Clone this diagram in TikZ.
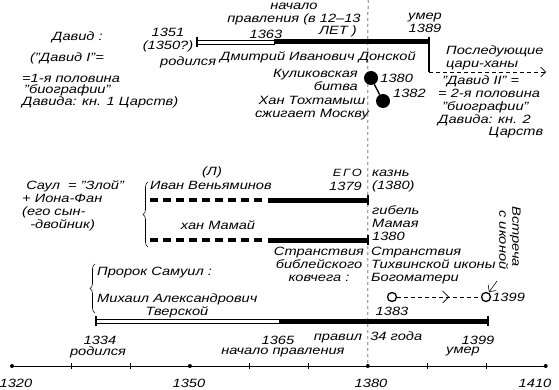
\documentclass[tikz,border=0pt]{standalone}
\usepackage{fontspec}
\setmainfont{Liberation Sans}[FakeStretch=1.22]
\usetikzlibrary{arrows.meta,positioning,calc,decorations.pathreplacing,decorations.markings}
\newcommand{\hnd}{\fontsize{12}{13}\selectfont\itshape}
\newcommand{\hndsm}{\fontsize{10.5}{12.5}\selectfont\itshape}
\tikzset{
  lbl/.style={font=\hnd, inner sep=0pt, align=left},
  lblsm/.style={lbl, font=\hndsm},
  openbar/.style={draw=black, line width=0.6pt, fill=white},
  fullbar/.style={line width=5pt, draw=black},
  dashbar/.style={line width=4.5pt, draw=black, dash pattern=on 8pt off 5pt},
  endtick/.style={line width=1.2pt},
  era/.style={line width=0.5pt, dash pattern=on 3pt off 3pt},
  flow/.style={-{Straight Barb[length=5pt]}, dash pattern=on 4pt off 3pt, line width=0.6pt},
  midflow/.style={dash pattern=on 4pt off 3pt, line width=0.6pt, postaction={decorate},
                  decoration={markings, mark=at position 0.62 with {\arrow{Straight Barb[length=6pt]}}}},
  event/.style={circle, fill=black, inner sep=0pt, minimum size=14pt},
  ring/.style={circle, draw=black, line width=1.3pt, fill=white, inner sep=0pt, minimum size=9pt},
  axdot/.style={circle, fill=black, inner sep=0pt, minimum size=4pt},
  brc/.style={decorate, decoration={brace, amplitude=5pt}, line width=0.6pt},
}

\begin{document}
\begin{tikzpicture}[x=1pt, y=-1pt]
\useasboundingbox[fill=white] (0,0) rectangle (559,390);

% time axis
\foreach \yr in {1320,1350,1380,1410}
  \node[axdot] (ax\yr) at ({12+(\yr-1320)*5.93},366) {};
\draw[line width=0.6pt] (ax1320) -- (ax1410);
\foreach \yr in {1330,1340,1360,1370,1390,1400}
  \draw[line width=0.5pt] ({12+(\yr-1320)*5.93},363) -- ++(0,6);
\node[lbl] (y1320) at (16,383) {1320};
\node[lbl] (y1350) at (189,383) {1350};
\node[lbl] (y1380) at (371,383) {1380};
\node[lbl] (y1410) at (535,383) {1410};
\coordinate (eraT) at (368,0);
\draw[era] (eraT) -- (ax1380);

% David I: Dmitry Donskoy
\node[lbl] (dav) at (52,37) [anchor=west] {Давид :};
\node[lbl] (dav1) at (30,58) [anchor=west] {("Давид I"=};
\node[lbl] (dav2) at (22,78) [anchor=west] {=1-я половина};
\node[lbl] (dav3) at (24,90) [anchor=west] {"биографии"};
\node[lbl] (dav4) at (22,102) [anchor=west] {Давида: кн. 1 Царств)};
\node[lbl, align=center] (dmborn) at (168,40) {1351\\(1350?)};
\node[lbl] (dmborn2) at (160,62) [anchor=west] {родился};
\node[lbl, align=center] (dmrule) at (294,14) {начало\\правления (в 12--13};
\node[lbl] (dmrule2) at (266,34) {1363};
\node[lbl] (dmyears) at (338,31) {ЛЕТ )};
\node[lbl, align=center] (dmdied) at (425,23) {умер\\1389};
\node[lbl] (dmname) at (318,57) {Дмитрий Иванович Донской};
\coordinate (dmB) at (197,42);
\coordinate (dmS) at (274,42);
\coordinate (dmE) at (429,42);
\draw[openbar] ($(dmB)+(0,-2)$) rectangle ($(dmS)+(0,2)$);
\draw[fullbar] (dmS) -- (dmE);
\draw[endtick] ($(dmB)+(0,-5)$) -- ($(dmB)+(0,5)$);
\draw[endtick] ($(dmE)+(0,-5)$) -- ($(dmE)+(0,30)$) coordinate (nxtB);
\coordinate (nxtE) at (546,72);
\draw[flow] (nxtB) -- (nxtE);
\node[lbl] (nxt) at (446,58) [anchor=west] {Последующие\\цари-ханы};

\node[event] (kul) at (371,78) {};
\node[event] (tokh) at (383,101) {};
\draw[line width=1.3pt] (kul) -- (tokh);
\node[lbl, right=2pt of kul] (kulyr) {1380};
\node[lbl] (tokhyr) at (393,93) [anchor=west] {1382};
\node[lbl, align=right] (kultx) at (358,80) [anchor=east] {Куликовская\\битва};
\node[lbl, align=center] (tokhtx) at (312,108) {Хан Тохтамыш\\сжигает Москву};

\node[lbl, align=left] (dav5) at (438,101) [anchor=west] {\ "Давид II" =\\= 2-я половина\\\ "биографии"\\Давида: кн. 2};
\node[lbl] (dav6) at (516,133) {Царств};

% Saul + Jonathan
\node[lbl] (saul) at (22,206) [anchor=west] {\ Саул \ = "Злой"\\+ Иона-Фан\\(его сын-\\\ \ -двойник)};
\coordinate (brS1) at (148,247);
\coordinate (brS2) at (148,182);
\draw[brc] (brS1) -- (brS2);
\node[lbl] (ivan) at (150,185) [anchor=west] {Иван Веньяминов};
\node[lbl] (ivanl) at (212,172) {(Л)};
\node[lblsm] (ivanhis) at (362,173) [anchor=east] {Е\,Г\,О};
\node[lbl] (ivanyr) at (362,186) [anchor=east] {1379};
\node[lbl] (ivandie) at (372,181) [anchor=west] {казнь\\(1380)};
\coordinate (ivB) at (150,200);
\coordinate (ivS) at (268,200);
\coordinate (ivE) at (368,200);
\draw[dashbar] (ivB) -- ($(ivS)+(-4,0)$);
\draw[fullbar] (ivS) -- (ivE);
\draw[endtick] ($(ivE)+(0,-5)$) -- ($(ivE)+(0,5)$);

\node[lbl] (mamai) at (218,225) {хан Мамай};
\node[lbl] (mamaidie) at (372,223) [anchor=west] {гибель\\Мамая\\1380};
\coordinate (mmB) at (150,240);
\coordinate (mmS) at (268,240);
\coordinate (mmE) at (368,240);
\draw[dashbar] (mmB) -- ($(mmS)+(-4,0)$);
\draw[fullbar] (mmS) -- (mmE);
\draw[endtick] ($(mmE)+(0,-5)$) -- ($(mmE)+(0,5)$);

% Samuel: Mikhail of Tver
\node[lbl] (sam) at (97,273) [anchor=west] {Пророк Самуил :};
\node[lbl] (mikh) at (97,299) [anchor=west] {Михаил Александрович};
\node[lbl] (mikh2) at (177,312) {Тверской};
\coordinate (brM1) at (95,313);
\coordinate (brM2) at (95,264);
\draw[brc] (brM1) -- (brM2);
\node[lbl, align=center] (ark) at (319,264) {Странствия\\библейского\\ковчега :};
\node[lbl] (icon) at (371,266) [anchor=west] {Странствия\\Тихвинской иконы\\Богоматери};
\node[ring] (ic1) at (392,297) {};
\node[ring] (ic2) at (486,297) {};
\draw[midflow] (ic1) -- (ic2);
\node[lbl] (ic1yr) at (392,311) {1383};
\node[lbl, right=1pt of ic2] (ic2yr) {1399};
\node[lbl, rotate=-90, align=left] (meet) at (510,238) {Встреча\\\ с иконой};
\coordinate (meetA) at (497,281);
\coordinate (meetB) at (489,292);
\draw[-{Straight Barb[length=5pt]}, line width=0.6pt] (meetA) -- (meetB);

\coordinate (mkB) at (96,321);
\coordinate (mkS) at (279,321);
\coordinate (mkE) at (488,321);
\draw[openbar] ($(mkB)+(0,-2)$) rectangle ($(mkS)+(0,2)$);
\draw[fullbar] (mkS) -- (mkE);
\draw[endtick] ($(mkB)+(0,-5)$) -- ($(mkB)+(0,5)$);
\draw[endtick] ($(mkE)+(0,-5)$) -- ($(mkE)+(0,5)$);
\node[lbl] (mkborn) at (100,340) {1334};
\node[lbl] (mkborn2) at (98,352) {родился};
\node[lbl] (mkrule) at (278,340) {1365};
\node[lbl] (mkrule2) at (283,353) {начало правления};
\node[lbl] (mkyears) at (368,337) {правил \ 34 года};
\node[lbl] (mkdied) at (478,340) {1399};
\node[lbl] (mkdied2) at (463,352) {умер};
\end{tikzpicture}
\end{document}
